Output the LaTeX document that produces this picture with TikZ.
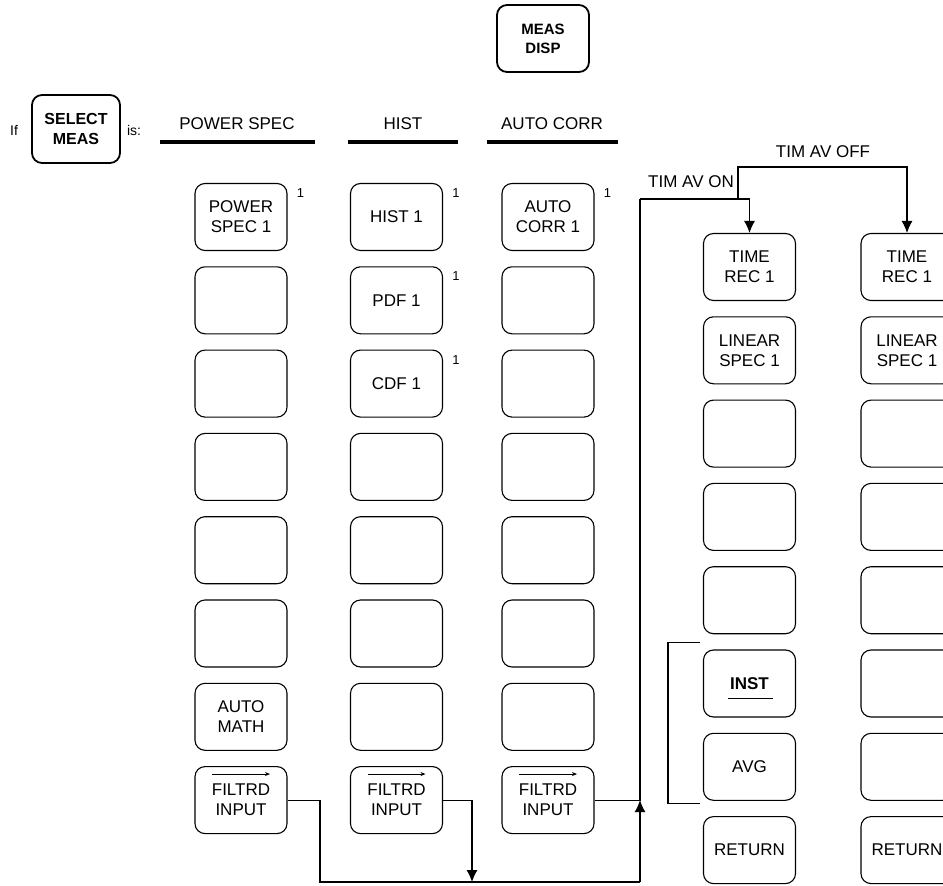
\documentclass[tikz,border=0pt]{standalone}
\usepackage{fontspec}
\setmainfont{Liberation Sans}
\usepackage{tikz}
\usetikzlibrary{
  calc,%
  % filled arrow heads
  arrows.meta,%
  positioning
}
\tikzset{>={Latex[length=12pt,width=11pt]}}
\tikzset{font=\fontsize{17}{20}\selectfont}
\tikzset{softkey/.style={draw, line width=1.1pt, rounded corners=10pt,
    minimum width=92pt, minimum height=67pt, inner sep=0pt, align=center},
  hardkey/.style={softkey, line width=1.8pt,
    font=\fontsize{15}{19}\selectfont\bfseries},
  footnote/.style={inner sep=0pt, font=\fontsize{13}{13}\selectfont},
  heading/.style={inner sep=0pt},
  bar/.style={line width=4pt},
  wire/.style={line width=1.1pt}}

\begin{document}
\begin{tikzpicture}[x=1pt, y=-1pt]
  \useasboundingbox (0,0) rectangle (943,886);

  % hard keys
  \node[hardkey] (measdisp) at (543,38.5) {MEAS\\DISP};
  \node[hardkey, minimum width=88pt, minimum height=68pt,
    font=\fontsize{16}{20}\selectfont\bfseries] (selmeas) at (76,129) {SELECT\\MEAS};
  \node[heading, font=\fontsize{14}{14}\selectfont] (if) at (14,130) {If};
  \node[heading, font=\fontsize{14}{14}\selectfont] (is) at (134,130) {is:};

  % column headings
  \node[heading] (hps) at (237,124) {POWER SPEC};
  \node[heading] (hhi) at (403,124) {HIST};
  \node[heading] (hac) at (552,124) {AUTO CORR};
  \draw[bar] (160,142) -- (315,142);
  \draw[bar] (348,142) -- (458,142);
  \draw[bar] (487,142) -- (618,142);

  % softkey columns
  \foreach \txt [count=\i] in {{POWER\\SPEC 1},{},{},{},{},{},{AUTO\\MATH},{FILTRD\\INPUT}}
    \node[softkey] (ps\i) at (241,{217+83.3*(\i-1)}) {\txt};
  \foreach \txt [count=\i] in {{HIST 1},{PDF 1},{CDF 1},{},{},{},{},{FILTRD\\INPUT}}
    \node[softkey] (hi\i) at (396.5,{217+83.3*(\i-1)}) {\txt};
  \foreach \txt [count=\i] in {{AUTO\\CORR 1},{},{},{},{},{},{},{FILTRD\\INPUT}}
    \node[softkey] (ac\i) at (548,{217+83.3*(\i-1)}) {\txt};
  \foreach \txt [count=\i] in {{TIME\\REC 1},{LINEAR\\SPEC 1},{},{},{},{\textbf{INST}},{AVG},{RETURN}}
    \node[softkey] (on\i) at (749.5,{267+83.3*(\i-1)}) {\txt};
  \foreach \txt [count=\i] in {{TIME\\REC 1},{LINEAR\\SPEC 1},{},{},{},{},{},{RETURN}}
    \node[softkey] (off\i) at (907,{267+83.3*(\i-1)}) {\txt};

  % footnote marks
  \foreach \k in {ps1,hi1,hi2,hi3,ac1}
    \node[footnote] at ($(\k.north east)+(13,10)$) {1};

  % arrows over FILTRD
  \foreach \k in {ps8,hi8,ac8}
    \draw[line width=0.9pt, -{Stealth[length=5pt,width=4pt]}]
      ($(\k.north)+(-29,8)$) -- ($(\k.north)+(29,8)$);

  % underline of INST
  \draw[wire] ($(on6.center)+(-22,15)$) -- ++(45,0);

  % bracket round INST / AVG
  \draw[wire] ($(on6.north west)+(-3,-7)$) -- ++(-32,0) |- ($(on7.south west)+(-3,3)$);

  % connectors
  \coordinate (cornerA) at (320,882);
  \coordinate (drop) at (472,882);
  \coordinate (cornerB) at (640,882);
  \coordinate (cornerC) at (640,199);
  \coordinate (split) at (738,199);
  \coordinate (cornerD) at (738,167);
  \draw[wire] (ps8.east) -| (cornerA) -- (cornerB);
  \draw[wire, ->] (hi8.east) -| (drop);
  \draw[wire, ->] (cornerB) -- (cornerB |- ac8.east);
  \draw[wire] (ac8.east) -- (cornerB |- ac8.east) -- (cornerC);
  \draw[wire, ->] (cornerC) -| (on1.north);
  \draw[wire, ->] (split) -- (cornerD) -| (off1.north);

  \node[heading, anchor=east] (avon) at (734,182) {TIM AV ON};
  \node[heading] (avoff) at (823,152) {TIM AV OFF};
\end{tikzpicture}
\end{document}
